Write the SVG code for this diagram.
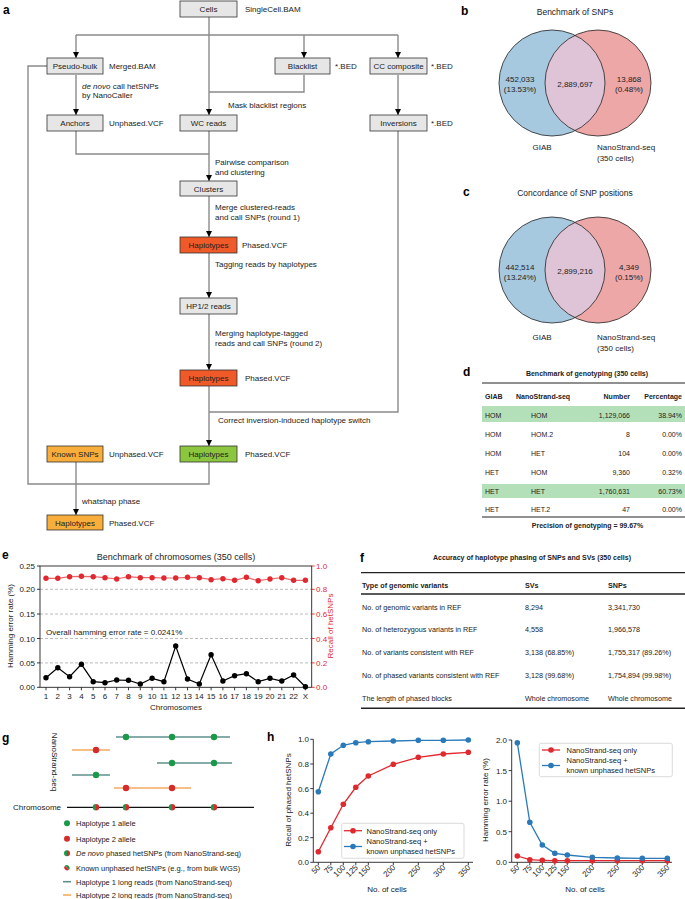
<svg xmlns="http://www.w3.org/2000/svg" width="685" height="899" viewBox="0 0 685 899">
<style>
text{font-family:"Liberation Sans",Arial,sans-serif;fill:#222}
.lbl{font-size:12px;font-weight:bold;fill:#000}
.bx{fill:#e6e6e6;stroke:#333;stroke-width:0.8}
.bt{font-size:8px;text-anchor:middle}
.ft{font-size:8px}
.con{fill:none;stroke:#8a8a8a;stroke-width:1.4}
.vt{font-size:8px}
.vtm{font-size:8px;text-anchor:middle}
.tt{font-size:7px}
.tb{font-size:7px;font-weight:bold}
.ax{stroke:#222;stroke-width:0.9;fill:none}
.grid{stroke:#aaa;stroke-width:0.8;stroke-dasharray:3,2}
.tk{font-size:8px}
.red{fill:#e0282e}
.blu{fill:#2a7ab9}
</style>
<defs>
<marker id="ar" markerUnits="userSpaceOnUse" markerWidth="6" markerHeight="6" refX="6" refY="3" orient="auto"><path d="M0,0 L6,3 L0,6 z" fill="#000"/></marker>
<clipPath id="cb"><circle cx="552" cy="83" r="53"/></clipPath>
<clipPath id="cc"><circle cx="552" cy="270" r="53"/></clipPath>
</defs>

<!-- panel a -->
<text class="lbl" x="3" y="14">a</text>
<g id="connectors">
<path class="con" d="M209,17 V115" marker-end="url(#ar)"/>
<path class="con" d="M76,35 H398"/>
<path class="con" d="M76,35 V58" marker-end="url(#ar)"/>
<path class="con" d="M304,35 V58" marker-end="url(#ar)"/>
<path class="con" d="M398,35 V58" marker-end="url(#ar)"/>
<path class="con" d="M304,75 V92 H209"/>
<path class="con" d="M76,75 V115" marker-end="url(#ar)"/>
<path class="con" d="M398,75 V115" marker-end="url(#ar)"/>
<path class="con" d="M76,131 V154 H209"/>
<path class="con" d="M209,131 V181" marker-end="url(#ar)"/>
<path class="con" d="M398,131 V412 H209"/>
<path class="con" d="M209,196 V237" marker-end="url(#ar)"/>
<path class="con" d="M209,253 V298" marker-end="url(#ar)"/>
<path class="con" d="M209,314 V370" marker-end="url(#ar)"/>
<path class="con" d="M209,386 V446" marker-end="url(#ar)"/>
<path class="con" d="M47,66 H28 V484 H209 V462"/>
<path class="con" d="M76,462 V515" marker-end="url(#ar)"/>
</g>
<g id="cells"><rect class="bx" x="180" y="1" width="57" height="16"/><text class="bt" x="208.5" y="12">Cells</text><text class="ft" x="245" y="12">SingleCell.BAM</text></g>
<g id="pseudobulk"><rect class="bx" x="47" y="58" width="56" height="16"/><text class="bt" x="75" y="69">Pseudo-bulk</text><text class="ft" x="109" y="69">Merged.BAM</text></g>
<g id="blacklist"><rect class="bx" x="275" y="58" width="55" height="16"/><text class="bt" x="302.5" y="69">Blacklist</text><text class="ft" x="335" y="69">*.BED</text></g>
<g id="cccomposite"><rect class="bx" x="370" y="58" width="57" height="16"/><text class="bt" x="398.5" y="69">CC composite</text><text class="ft" x="431" y="69">*.BED</text></g>
<text class="ft" x="82" y="89"><tspan font-style="italic">de novo</tspan> call hetSNPs</text>
<text class="ft" x="82" y="98">by NanoCaller</text>
<text class="ft" x="228" y="108">Mask blacklist regions</text>
<g id="anchors"><rect class="bx" x="47" y="115" width="56" height="16"/><text class="bt" x="75" y="126">Anchors</text><text class="ft" x="109" y="126">Unphased.VCF</text></g>
<g id="wcreads"><rect class="bx" x="180" y="115" width="57" height="16"/><text class="bt" x="208.5" y="126">WC reads</text></g>
<g id="inversions"><rect class="bx" x="370" y="115" width="57" height="16"/><text class="bt" x="398.5" y="126">Inversions</text><text class="ft" x="431" y="126">*.BED</text></g>
<text class="ft" x="215" y="165">Pairwise comparison</text>
<text class="ft" x="215" y="174.5">and clustering</text>
<g id="clusters"><rect class="bx" x="180" y="181" width="57" height="15"/><text class="bt" x="208.5" y="191.5">Clusters</text></g>
<text class="ft" x="215" y="210">Merge clustered-reads</text>
<text class="ft" x="215" y="220">and call SNPs (round 1)</text>
<g id="haplotypes1"><rect class="bx" x="180" y="237" width="57" height="16" style="fill:#f05a28"/><text class="bt" x="208.5" y="248">Haplotypes</text><text class="ft" x="242" y="248">Phased.VCF</text></g>
<text class="ft" x="215" y="267">Tagging reads by haplotypes</text>
<g id="hp12"><rect class="bx" x="180" y="298" width="57" height="16"/><text class="bt" x="208.5" y="309">HP1/2 reads</text></g>
<text class="ft" x="215" y="335.5">Merging haplotype-tagged</text>
<text class="ft" x="215" y="345.5">reads and call SNPs (round 2)</text>
<g id="haplotypes2"><rect class="bx" x="180" y="370" width="57" height="16" style="fill:#f05a28"/><text class="bt" x="208.5" y="381">Haplotypes</text><text class="ft" x="245" y="381">Phased.VCF</text></g>
<text class="ft" x="218" y="423">Correct inversion-induced haplotype switch</text>
<g id="knownsnps"><rect class="bx" x="47" y="446" width="56" height="16" style="fill:#f9ad3a"/><text class="bt" x="75" y="457">Known SNPs</text><text class="ft" x="109" y="457">Unphased.VCF</text></g>
<g id="haplotypes3"><rect class="bx" x="180" y="446" width="57" height="16" style="fill:#8cc63f"/><text class="bt" x="208.5" y="457">Haplotypes</text><text class="ft" x="245" y="457">Phased.VCF</text></g>
<text class="ft" x="82" y="503.5">whatshap phase</text>
<g id="haplotypes4"><rect class="bx" x="47" y="515" width="56" height="15" style="fill:#f9ad3a"/><text class="bt" x="75" y="525.5">Haplotypes</text><text class="ft" x="109" y="525.5">Phased.VCF</text></g>

<!-- panel b -->
<g id="venn-b">
<text class="lbl" x="461" y="15">b</text>
<text class="vtm" x="575" y="15" style="font-size:8.5px">Benchmark of SNPs</text>
<circle cx="552" cy="83" r="53" fill="#a7c9e0"/>
<circle cx="598" cy="83" r="53" fill="#eea7a7"/>
<circle cx="598" cy="83" r="53" fill="#dfc4d8" clip-path="url(#cb)"/>
<circle cx="552" cy="83" r="53" fill="none" stroke="#222" stroke-width="0.8"/>
<circle cx="598" cy="83" r="53" fill="none" stroke="#222" stroke-width="0.8"/>
<text class="vtm" x="520" y="82">452,033</text><text class="vtm" x="520" y="92">(13.53%)</text>
<text class="vtm" x="575" y="87">2,889,697</text>
<text class="vtm" x="629" y="82">13,868</text><text class="vtm" x="629" y="92">(0.48%)</text>
<text class="vtm" x="542" y="150">GIAB</text>
<text class="vt" x="597" y="150">NanoStrand-seq</text><text class="vt" x="597" y="161">(350 cells)</text>
</g>

<!-- panel c -->
<g id="venn-c">
<text class="lbl" x="463" y="196">c</text>
<text class="vtm" x="575" y="196" style="font-size:8.5px">Concordance of SNP positions</text>
<circle cx="552" cy="270" r="53" fill="#a7c9e0"/>
<circle cx="598" cy="270" r="53" fill="#eea7a7"/>
<circle cx="598" cy="270" r="53" fill="#dfc4d8" clip-path="url(#cc)"/>
<circle cx="552" cy="270" r="53" fill="none" stroke="#222" stroke-width="0.8"/>
<circle cx="598" cy="270" r="53" fill="none" stroke="#222" stroke-width="0.8"/>
<text class="vtm" x="520" y="270">442,514</text><text class="vtm" x="520" y="280">(13.24%)</text>
<text class="vtm" x="575" y="274">2,899,216</text>
<text class="vtm" x="629" y="270">4,349</text><text class="vtm" x="629" y="280">(0.15%)</text>
<text class="vtm" x="542" y="340">GIAB</text>
<text class="vt" x="597" y="340">NanoStrand-seq</text><text class="vt" x="597" y="351">(350 cells)</text>
</g>

<!-- panel d -->
<g id="table-d">
<text class="lbl" x="463" y="376">d</text>
<text class="tb" x="587" y="375.5" text-anchor="middle">Benchmark of genotyping (350 cells)</text>
<line x1="482" y1="383" x2="685" y2="383" stroke="#222" stroke-width="1.2"/>
<text class="tb" x="485" y="398.5">GIAB</text><text class="tb" x="516" y="398.5">NanoStrand-seq</text><text class="tb" x="630" y="398.5" text-anchor="end">Number</text><text class="tb" x="682" y="398.5" text-anchor="end">Percentage</text>
<rect x="482" y="406" width="203" height="16" fill="#b3e0b8"/>
<rect x="482" y="484" width="203" height="14" fill="#b3e0b8"/>
<text class="tt" x="485" y="417.5">HOM</text><text class="tt" x="531" y="417.5">HOM</text><text class="tt" x="630" y="417.5" text-anchor="end">1,129,066</text><text class="tt" x="682" y="417.5" text-anchor="end">38.94%</text>
<text class="tt" x="485" y="436.5">HOM</text><text class="tt" x="531" y="436.5">HOM.2</text><text class="tt" x="630" y="436.5" text-anchor="end">8</text><text class="tt" x="682" y="436.5" text-anchor="end">0.00%</text>
<text class="tt" x="485" y="455.5">HOM</text><text class="tt" x="531" y="455.5">HET</text><text class="tt" x="630" y="455.5" text-anchor="end">104</text><text class="tt" x="682" y="455.5" text-anchor="end">0.00%</text>
<text class="tt" x="485" y="474.5">HET</text><text class="tt" x="531" y="474.5">HOM</text><text class="tt" x="630" y="474.5" text-anchor="end">9,360</text><text class="tt" x="682" y="474.5" text-anchor="end">0.32%</text>
<text class="tt" x="485" y="493.5">HET</text><text class="tt" x="531" y="493.5">HET</text><text class="tt" x="630" y="493.5" text-anchor="end">1,760,631</text><text class="tt" x="682" y="493.5" text-anchor="end">60.73%</text>
<text class="tt" x="485" y="512">HET</text><text class="tt" x="531" y="512">HET.2</text><text class="tt" x="630" y="512" text-anchor="end">47</text><text class="tt" x="682" y="512" text-anchor="end">0.00%</text>
<line x1="482" y1="517" x2="685" y2="517" stroke="#222" stroke-width="1.2"/>
<text class="tb" x="587.5" y="528" text-anchor="middle">Precision of genotyping = 99.67%</text>
</g>

<!-- panel f -->
<g id="table-f">
<text class="lbl" x="360" y="562">f</text>
<text class="tb" x="532" y="560" text-anchor="middle">Accuracy of haplotype phasing of SNPs and SVs (350 cells)</text>
<line x1="361" y1="572.7" x2="685" y2="572.7" stroke="#222" stroke-width="1.2"/>
<text class="tb" x="362" y="587.5" style="font-size:7.2px">Type of genomic variants</text><text class="tb" x="525" y="587.5" style="font-size:7.2px">SVs</text><text class="tb" x="608" y="587.5" style="font-size:7.2px">SNPs</text>
<line x1="361" y1="594" x2="685" y2="594" stroke="#222" stroke-width="1.6"/>
<text class="tt" x="362" y="609.5" style="font-size:7.2px">No. of genomic variants in REF</text><text class="tt" x="525" y="609.5" style="font-size:7.2px">8,294</text><text class="tt" x="608" y="609.5" style="font-size:7.2px">3,341,730</text>
<text class="tt" x="362" y="632" style="font-size:7.2px">No. of heterozygous variants in REF</text><text class="tt" x="525" y="632" style="font-size:7.2px">4,558</text><text class="tt" x="608" y="632" style="font-size:7.2px">1,966,578</text>
<text class="tt" x="362" y="655" style="font-size:7.2px">No. of variants consistent with REF</text><text class="tt" x="525" y="655" style="font-size:7.2px">3,138 (68.85%)</text><text class="tt" x="608" y="655" style="font-size:7.2px">1,755,317 (89.26%)</text>
<text class="tt" x="362" y="678" style="font-size:7.2px">No. of phased variants consistent with REF</text><text class="tt" x="525" y="678" style="font-size:7.2px">3,128 (99.68%)</text><text class="tt" x="608" y="678" style="font-size:7.2px">1,754,894 (99.98%)</text>
<text class="tt" x="362" y="701" style="font-size:7.2px">The length of phased blocks</text><text class="tt" x="525" y="701" style="font-size:7.2px">Whole chromosome</text><text class="tt" x="608" y="701" style="font-size:7.2px">Whole chromosome</text>
<line x1="361" y1="708.3" x2="685" y2="708.3" stroke="#222" stroke-width="1.6"/>
</g>

<!-- panel e -->
<g id="plot-e">
<text class="lbl" x="2" y="559">e</text>
<text x="176" y="560" text-anchor="middle" style="font-size:9px">Benchmark of chromosomes (350 cells)</text>
<line class="grid" x1="40" y1="589.3" x2="311.7" y2="589.3"/>
<line class="grid" x1="40" y1="614" x2="311.7" y2="614"/>
<line class="grid" x1="40" y1="638.5" x2="311.7" y2="638.5"/>
<line class="grid" x1="40" y1="662.9" x2="311.7" y2="662.9"/>
<rect class="ax" x="40" y="566" width="271.7" height="121.3"/>
<path class="ax" d="M37,566H40M37,589.3H40M37,614H40M37,638.5H40M37,662.9H40M37,687.3H40"/>
<path d="M311.7,566h3M311.7,589.3h3M311.7,614h3M311.7,638.5h3M311.7,662.9h3M311.7,687.3h3" stroke="#e0282e" stroke-width="0.9"/>
<g text-anchor="end"><text x="35" y="569" class="tk">0.25</text><text x="35" y="592.3" class="tk">0.20</text><text x="35" y="617" class="tk">0.15</text><text x="35" y="641.5" class="tk">0.10</text><text x="35" y="665.9" class="tk">0.05</text><text x="35" y="690.3" class="tk">0.00</text></g>
<g><text x="316" y="569" class="tk red">1.0</text><text x="316" y="592.3" class="tk red">0.8</text><text x="316" y="617" class="tk red">0.6</text><text x="316" y="641.5" class="tk red">0.4</text><text x="316" y="665.9" class="tk red">0.2</text><text x="316" y="690.3" class="tk red">0.0</text></g>
<text x="13" y="626" text-anchor="middle" transform="rotate(-90 13 626)" style="font-size:8px">Hamming error rate (%)</text>
<text x="333" y="626" text-anchor="middle" transform="rotate(-90 333 626)" class="red" style="font-size:8px">Recall of hetSNPs</text>
<path class="ax" d="M46,687.3v3M57.8,687.3v3M69.6,687.3v3M81.4,687.3v3M93.2,687.3v3M105,687.3v3M116.7,687.3v3M128.5,687.3v3M140.3,687.3v3M152.1,687.3v3M163.9,687.3v3M175.7,687.3v3M187.5,687.3v3M199.3,687.3v3M211.1,687.3v3M222.9,687.3v3M234.6,687.3v3M246.4,687.3v3M258.2,687.3v3M270,687.3v3M281.8,687.3v3M293.6,687.3v3M305.4,687.3v3"/>
<g text-anchor="middle">
<text x="46" y="699" class="tk">1</text><text x="57.8" y="699" class="tk">2</text><text x="69.6" y="699" class="tk">3</text><text x="81.4" y="699" class="tk">4</text><text x="93.2" y="699" class="tk">5</text><text x="105" y="699" class="tk">6</text><text x="116.7" y="699" class="tk">7</text><text x="128.5" y="699" class="tk">8</text><text x="140.3" y="699" class="tk">9</text><text x="152.1" y="699" class="tk">10</text><text x="163.9" y="699" class="tk">11</text><text x="175.7" y="699" class="tk">12</text><text x="187.5" y="699" class="tk">13</text><text x="199.3" y="699" class="tk">14</text><text x="211.1" y="699" class="tk">15</text><text x="222.9" y="699" class="tk">16</text><text x="234.6" y="699" class="tk">17</text><text x="246.4" y="699" class="tk">18</text><text x="258.2" y="699" class="tk">19</text><text x="270" y="699" class="tk">20</text><text x="281.8" y="699" class="tk">21</text><text x="293.6" y="699" class="tk">22</text><text x="305.4" y="699" class="tk">X</text>
</g>
<text x="176" y="710" text-anchor="middle" style="font-size:8px">Chromosomes</text>
<text x="46" y="634.5" style="font-size:8px">Overall hamming error rate = 0.0241%</text>
<polyline fill="none" stroke="#e0282e" stroke-opacity="0.7" stroke-width="1.2" points="46,578.3 57.8,578.3 69.6,576.7 81.4,576.3 93.2,576.7 105,577.7 116.7,579 128.5,576.7 140.3,577.7 152.1,577.7 163.9,578 175.7,578 187.5,577.3 199.3,577.7 211.1,579.7 222.9,578.7 234.6,580.3 246.4,577.3 258.2,580.7 270,579 281.8,577.7 293.6,580.3 305.4,580.3"/>
<g fill="#e0282e"><circle cx="46" cy="578.3" r="2.7"/><circle cx="57.8" cy="578.3" r="2.7"/><circle cx="69.6" cy="576.7" r="2.7"/><circle cx="81.4" cy="576.3" r="2.7"/><circle cx="93.2" cy="576.7" r="2.7"/><circle cx="105" cy="577.7" r="2.7"/><circle cx="116.7" cy="579" r="2.7"/><circle cx="128.5" cy="576.7" r="2.7"/><circle cx="140.3" cy="577.7" r="2.7"/><circle cx="152.1" cy="577.7" r="2.7"/><circle cx="163.9" cy="578" r="2.7"/><circle cx="175.7" cy="578" r="2.7"/><circle cx="187.5" cy="577.3" r="2.7"/><circle cx="199.3" cy="577.7" r="2.7"/><circle cx="211.1" cy="579.7" r="2.7"/><circle cx="222.9" cy="578.7" r="2.7"/><circle cx="234.6" cy="580.3" r="2.7"/><circle cx="246.4" cy="577.3" r="2.7"/><circle cx="258.2" cy="580.7" r="2.7"/><circle cx="270" cy="579" r="2.7"/><circle cx="281.8" cy="577.7" r="2.7"/><circle cx="293.6" cy="580.3" r="2.7"/><circle cx="305.4" cy="580.3" r="2.7"/></g>
<polyline fill="none" stroke="#000" stroke-width="1.2" points="46,677.7 57.8,667.7 69.6,676.7 81.4,664.3 93.2,681.7 105,682.7 116.7,680 128.5,680.3 140.3,684 152.1,678.3 163.9,681.7 175.7,646 187.5,679 199.3,684 211.1,654.7 222.9,681 234.6,675.7 246.4,673.7 258.2,681.7 270,678.3 281.8,681 293.6,675 305.4,686.7"/>
<g fill="#000"><circle cx="46" cy="677.7" r="2.7"/><circle cx="57.8" cy="667.7" r="2.7"/><circle cx="69.6" cy="676.7" r="2.7"/><circle cx="81.4" cy="664.3" r="2.7"/><circle cx="93.2" cy="681.7" r="2.7"/><circle cx="105" cy="682.7" r="2.7"/><circle cx="116.7" cy="680" r="2.7"/><circle cx="128.5" cy="680.3" r="2.7"/><circle cx="140.3" cy="684" r="2.7"/><circle cx="152.1" cy="678.3" r="2.7"/><circle cx="163.9" cy="681.7" r="2.7"/><circle cx="175.7" cy="646" r="2.7"/><circle cx="187.5" cy="679" r="2.7"/><circle cx="199.3" cy="684" r="2.7"/><circle cx="211.1" cy="654.7" r="2.7"/><circle cx="222.9" cy="681" r="2.7"/><circle cx="234.6" cy="675.7" r="2.7"/><circle cx="246.4" cy="673.7" r="2.7"/><circle cx="258.2" cy="681.7" r="2.7"/><circle cx="270" cy="678.3" r="2.7"/><circle cx="281.8" cy="681" r="2.7"/><circle cx="293.6" cy="675" r="2.7"/><circle cx="305.4" cy="686.7" r="2.7"/></g>
</g>

<!-- panel g -->
<g id="schematic-g">
<text class="lbl" x="2" y="742">g</text>
<text x="52" y="762" text-anchor="middle" transform="rotate(90 52 762)" style="font-size:8px">NanoStrand-seq</text>
<g stroke-width="1.6" stroke-linecap="butt">
<line x1="116" y1="737" x2="230" y2="737" stroke="#5f8f8c"/>
<line x1="72" y1="750" x2="110" y2="750" stroke="#f6a95f"/>
<line x1="157" y1="763" x2="232" y2="763" stroke="#5f8f8c"/>
<line x1="72" y1="775" x2="110" y2="775" stroke="#5f8f8c"/>
<line x1="114" y1="788" x2="191" y2="788" stroke="#f6a95f"/>
<line x1="67" y1="807.3" x2="254" y2="807.3" stroke="#111" stroke-width="1.3"/>
</g>
<g fill="#1a9a48"><circle cx="126" cy="737" r="3.2"/><circle cx="172" cy="737" r="3.2"/><circle cx="214" cy="737" r="3.2"/><circle cx="172" cy="763" r="3.2"/><circle cx="214" cy="763" r="3.2"/><circle cx="96" cy="775" r="3.2"/></g>
<g fill="#d62b2b"><circle cx="96" cy="750" r="3.2"/><circle cx="126" cy="788" r="3.2"/><circle cx="172" cy="788" r="3.2"/></g>
<text x="61" y="810" text-anchor="end" style="font-size:8px">Chromosome</text>
<g>
<path d="M96,804.1 A3.2,3.2 0 0 0 96,810.5 Z" fill="#1a9a48"/><path d="M96,804.1 A3.2,3.2 0 0 1 96,810.5 Z" fill="#d62b2b"/>
<path d="M126,804.1 A3.2,3.2 0 0 0 126,810.5 Z" fill="#1a9a48"/><path d="M126,804.1 A3.2,3.2 0 0 1 126,810.5 Z" fill="#d62b2b"/>
<path d="M172,804.1 A3.2,3.2 0 0 0 172,810.5 Z" fill="#1a9a48"/><path d="M172,804.1 A3.2,3.2 0 0 1 172,810.5 Z" fill="#d62b2b"/>
<path d="M214,804.1 A3.2,3.2 0 0 0 214,810.5 Z" fill="#1a9a48"/><path d="M214,804.1 A3.2,3.2 0 0 1 214,810.5 Z" fill="#d62b2b"/>
</g>
<circle cx="67" cy="823.3" r="3" fill="#1a9a48"/>
<circle cx="67" cy="838.7" r="3" fill="#d62b2b"/>
<path d="M67,850.3 A3,3 0 0 0 67,856.3 Z" fill="#1a9a48"/><path d="M67,850.3 A3,3 0 0 1 67,856.3 Z" fill="#d62b2b"/>
<path d="M64.9,865.6 A3,3 0 0 1 69.1,869.8 Z" fill="#1a9a48"/><path d="M64.9,865.6 A3,3 0 0 0 69.1,869.8 Z" fill="#d62b2b"/>
<line x1="63" y1="881.7" x2="71" y2="881.7" stroke="#5f8f8c" stroke-width="1.6"/>
<line x1="63" y1="895" x2="71" y2="895" stroke="#f6a95f" stroke-width="1.6"/>
<text x="76" y="826" style="font-size:7.5px">Haplotype 1 allele</text>
<text x="76" y="841.5" style="font-size:7.5px">Haplotype 2 allele</text>
<text x="76" y="856" style="font-size:7.5px"><tspan font-style="italic">De novo</tspan> phased hetSNPs (from NanoStrand-seq)</text>
<text x="76" y="870.5" style="font-size:7.5px">Known unphased hetSNPs (e.g., from bulk WGS)</text>
<text x="76" y="884.5" style="font-size:7.5px">Haplotype 1 long reads (from NanoStrand-seq)</text>
<text x="76" y="898" style="font-size:7.5px">Haplotype 2 long reads (from NanoStrand-seq)</text>
</g>

<!-- panel h left -->
<g id="plot-h-recall">
<text class="lbl" x="267" y="741">h</text>
<path class="ax" d="M313.3,739.3 V862.3 H473"/>
<path class="ax" d="M310.3,739.3h3M310.3,764h3M310.3,788.6h3M310.3,813.2h3M310.3,837.7h3M310.3,862.3h3"/>
<g text-anchor="end"><text x="309" y="742.3" class="tk">1.0</text><text x="309" y="767" class="tk">0.8</text><text x="309" y="791.6" class="tk">0.6</text><text x="309" y="816.2" class="tk">0.4</text><text x="309" y="840.7" class="tk">0.2</text><text x="309" y="865.3" class="tk">0.0</text></g>
<text x="291" y="800" text-anchor="middle" transform="rotate(-90 291 800)" style="font-size:8px">Recall of phased hetSNPs</text>
<path class="ax" d="M318.3,862.3v3M330.8,862.3v3M343.3,862.3v3M355.8,862.3v3M368.3,862.3v3M393.3,862.3v3M418.3,862.3v3M443.3,862.3v3M468.3,862.3v3"/>
<g text-anchor="end">
<text class="tk" transform="translate(321,868) rotate(-45)">50</text><text class="tk" transform="translate(333.5,868) rotate(-45)">75</text><text class="tk" transform="translate(346,868) rotate(-45)">100</text><text class="tk" transform="translate(358.5,868) rotate(-45)">125</text><text class="tk" transform="translate(371,868) rotate(-45)">150</text><text class="tk" transform="translate(396,868) rotate(-45)">200</text><text class="tk" transform="translate(421,868) rotate(-45)">250</text><text class="tk" transform="translate(446,868) rotate(-45)">300</text><text class="tk" transform="translate(471,868) rotate(-45)">350</text>
</g>
<text x="387" y="892" text-anchor="middle" style="font-size:8px">No. of cells</text>
<polyline fill="none" stroke="#2a7ab9" stroke-width="1.3" points="318.3,791.7 330.8,754 343.3,745.3 355.8,742.7 368.3,741.7 393.3,741 418.3,740.3 443.3,740.3 468.3,740"/>
<g class="blu"><circle cx="318.3" cy="791.7" r="2.8"/><circle cx="330.8" cy="754" r="2.8"/><circle cx="343.3" cy="745.3" r="2.8"/><circle cx="355.8" cy="742.7" r="2.8"/><circle cx="368.3" cy="741.7" r="2.8"/><circle cx="393.3" cy="741" r="2.8"/><circle cx="418.3" cy="740.3" r="2.8"/><circle cx="443.3" cy="740.3" r="2.8"/><circle cx="468.3" cy="740" r="2.8"/></g>
<polyline fill="none" stroke="#e0282e" stroke-width="1.3" points="318.3,851.7 330.8,827.7 343.3,804.3 355.8,787.3 368.3,776 393.3,764.3 418.3,757.3 443.3,754 468.3,752.3"/>
<g class="red"><circle cx="318.3" cy="851.7" r="2.8"/><circle cx="330.8" cy="827.7" r="2.8"/><circle cx="343.3" cy="804.3" r="2.8"/><circle cx="355.8" cy="787.3" r="2.8"/><circle cx="368.3" cy="776" r="2.8"/><circle cx="393.3" cy="764.3" r="2.8"/><circle cx="418.3" cy="757.3" r="2.8"/><circle cx="443.3" cy="754" r="2.8"/><circle cx="468.3" cy="752.3" r="2.8"/></g>
<rect x="341.7" y="823.3" width="122.3" height="35" rx="2" fill="#fff" fill-opacity="0.85" stroke="#ccc" stroke-width="0.7"/>
<line x1="344" y1="830.7" x2="362" y2="830.7" stroke="#e0282e" stroke-width="1.3"/><circle cx="353" cy="830.7" r="2.8" fill="#e0282e"/>
<text x="366.5" y="833.5" style="font-size:7.5px">NanoStrand-seq only</text>
<line x1="344" y1="846.5" x2="362" y2="846.5" stroke="#2a7ab9" stroke-width="1.3"/><circle cx="353" cy="846.5" r="2.8" fill="#2a7ab9"/>
<text x="366.5" y="844.3" style="font-size:7.5px">NanoStrand-seq +</text>
<text x="366.5" y="853.5" style="font-size:7.5px">known unphased hetSNPs</text>
</g>

<!-- panel h right -->
<g id="plot-h-hamming">
<path class="ax" d="M511.7,740 V862.3 H672"/>
<path class="ax" d="M508.7,740h3M508.7,770.6h3M508.7,801.2h3M508.7,831.7h3M508.7,862.3h3"/>
<g text-anchor="end"><text x="507" y="743" class="tk">2.0</text><text x="507" y="773.6" class="tk">1.5</text><text x="507" y="804.2" class="tk">1.0</text><text x="507" y="834.7" class="tk">0.5</text><text x="507" y="865.3" class="tk">0.0</text></g>
<text x="488" y="800" text-anchor="middle" transform="rotate(-90 488 800)" style="font-size:8px">Hamming error rate (%)</text>
<path class="ax" d="M517.3,862.3v3M529.8,862.3v3M542.3,862.3v3M554.8,862.3v3M567.3,862.3v3M592.3,862.3v3M617.3,862.3v3M642.3,862.3v3M667.3,862.3v3"/>
<g text-anchor="end">
<text class="tk" transform="translate(520,868) rotate(-45)">50</text><text class="tk" transform="translate(532.5,868) rotate(-45)">75</text><text class="tk" transform="translate(545,868) rotate(-45)">100</text><text class="tk" transform="translate(557.5,868) rotate(-45)">125</text><text class="tk" transform="translate(570,868) rotate(-45)">150</text><text class="tk" transform="translate(595,868) rotate(-45)">200</text><text class="tk" transform="translate(620,868) rotate(-45)">250</text><text class="tk" transform="translate(645,868) rotate(-45)">300</text><text class="tk" transform="translate(670,868) rotate(-45)">350</text>
</g>
<text x="585" y="892" text-anchor="middle" style="font-size:8px">No. of cells</text>
<polyline fill="none" stroke="#e0282e" stroke-width="1.3" points="517.3,856 529.8,859.7 542.3,860.3 554.8,860.7 567.3,860.7 592.3,860.7 617.3,860.7 642.3,860.7 667.3,860.7"/>
<g class="red"><circle cx="517.3" cy="856" r="2.8"/><circle cx="529.8" cy="859.7" r="2.8"/><circle cx="542.3" cy="860.3" r="2.8"/><circle cx="554.8" cy="860.7" r="2.8"/><circle cx="567.3" cy="860.7" r="2.8"/><circle cx="592.3" cy="860.7" r="2.8"/><circle cx="617.3" cy="860.7" r="2.8"/><circle cx="642.3" cy="860.7" r="2.8"/><circle cx="667.3" cy="860.7" r="2.8"/></g>
<polyline fill="none" stroke="#2a7ab9" stroke-width="1.3" points="517.3,742.7 529.8,822.3 542.3,845 554.8,853.3 567.3,855 592.3,857.3 617.3,858 642.3,858.3 667.3,858.3"/>
<g class="blu"><circle cx="517.3" cy="742.7" r="2.8"/><circle cx="529.8" cy="822.3" r="2.8"/><circle cx="542.3" cy="845" r="2.8"/><circle cx="554.8" cy="853.3" r="2.8"/><circle cx="567.3" cy="855" r="2.8"/><circle cx="592.3" cy="857.3" r="2.8"/><circle cx="617.3" cy="858" r="2.8"/><circle cx="642.3" cy="858.3" r="2.8"/><circle cx="667.3" cy="858.3" r="2.8"/></g>
<rect x="539.3" y="743.3" width="133" height="33.4" rx="2" fill="#fff" fill-opacity="0.85" stroke="#ccc" stroke-width="0.7"/>
<line x1="542" y1="750" x2="560" y2="750" stroke="#e0282e" stroke-width="1.3"/><circle cx="551" cy="750" r="2.8" fill="#e0282e"/>
<text x="566.5" y="752.8" style="font-size:7.5px">NanoStrand-seq only</text>
<line x1="542" y1="765.5" x2="560" y2="765.5" stroke="#2a7ab9" stroke-width="1.3"/><circle cx="551" cy="765.5" r="2.8" fill="#2a7ab9"/>
<text x="566.5" y="763.3" style="font-size:7.5px">NanoStrand-seq +</text>
<text x="566.5" y="772.8" style="font-size:7.5px">known unphased hetSNPs</text>
</g>
</svg>
